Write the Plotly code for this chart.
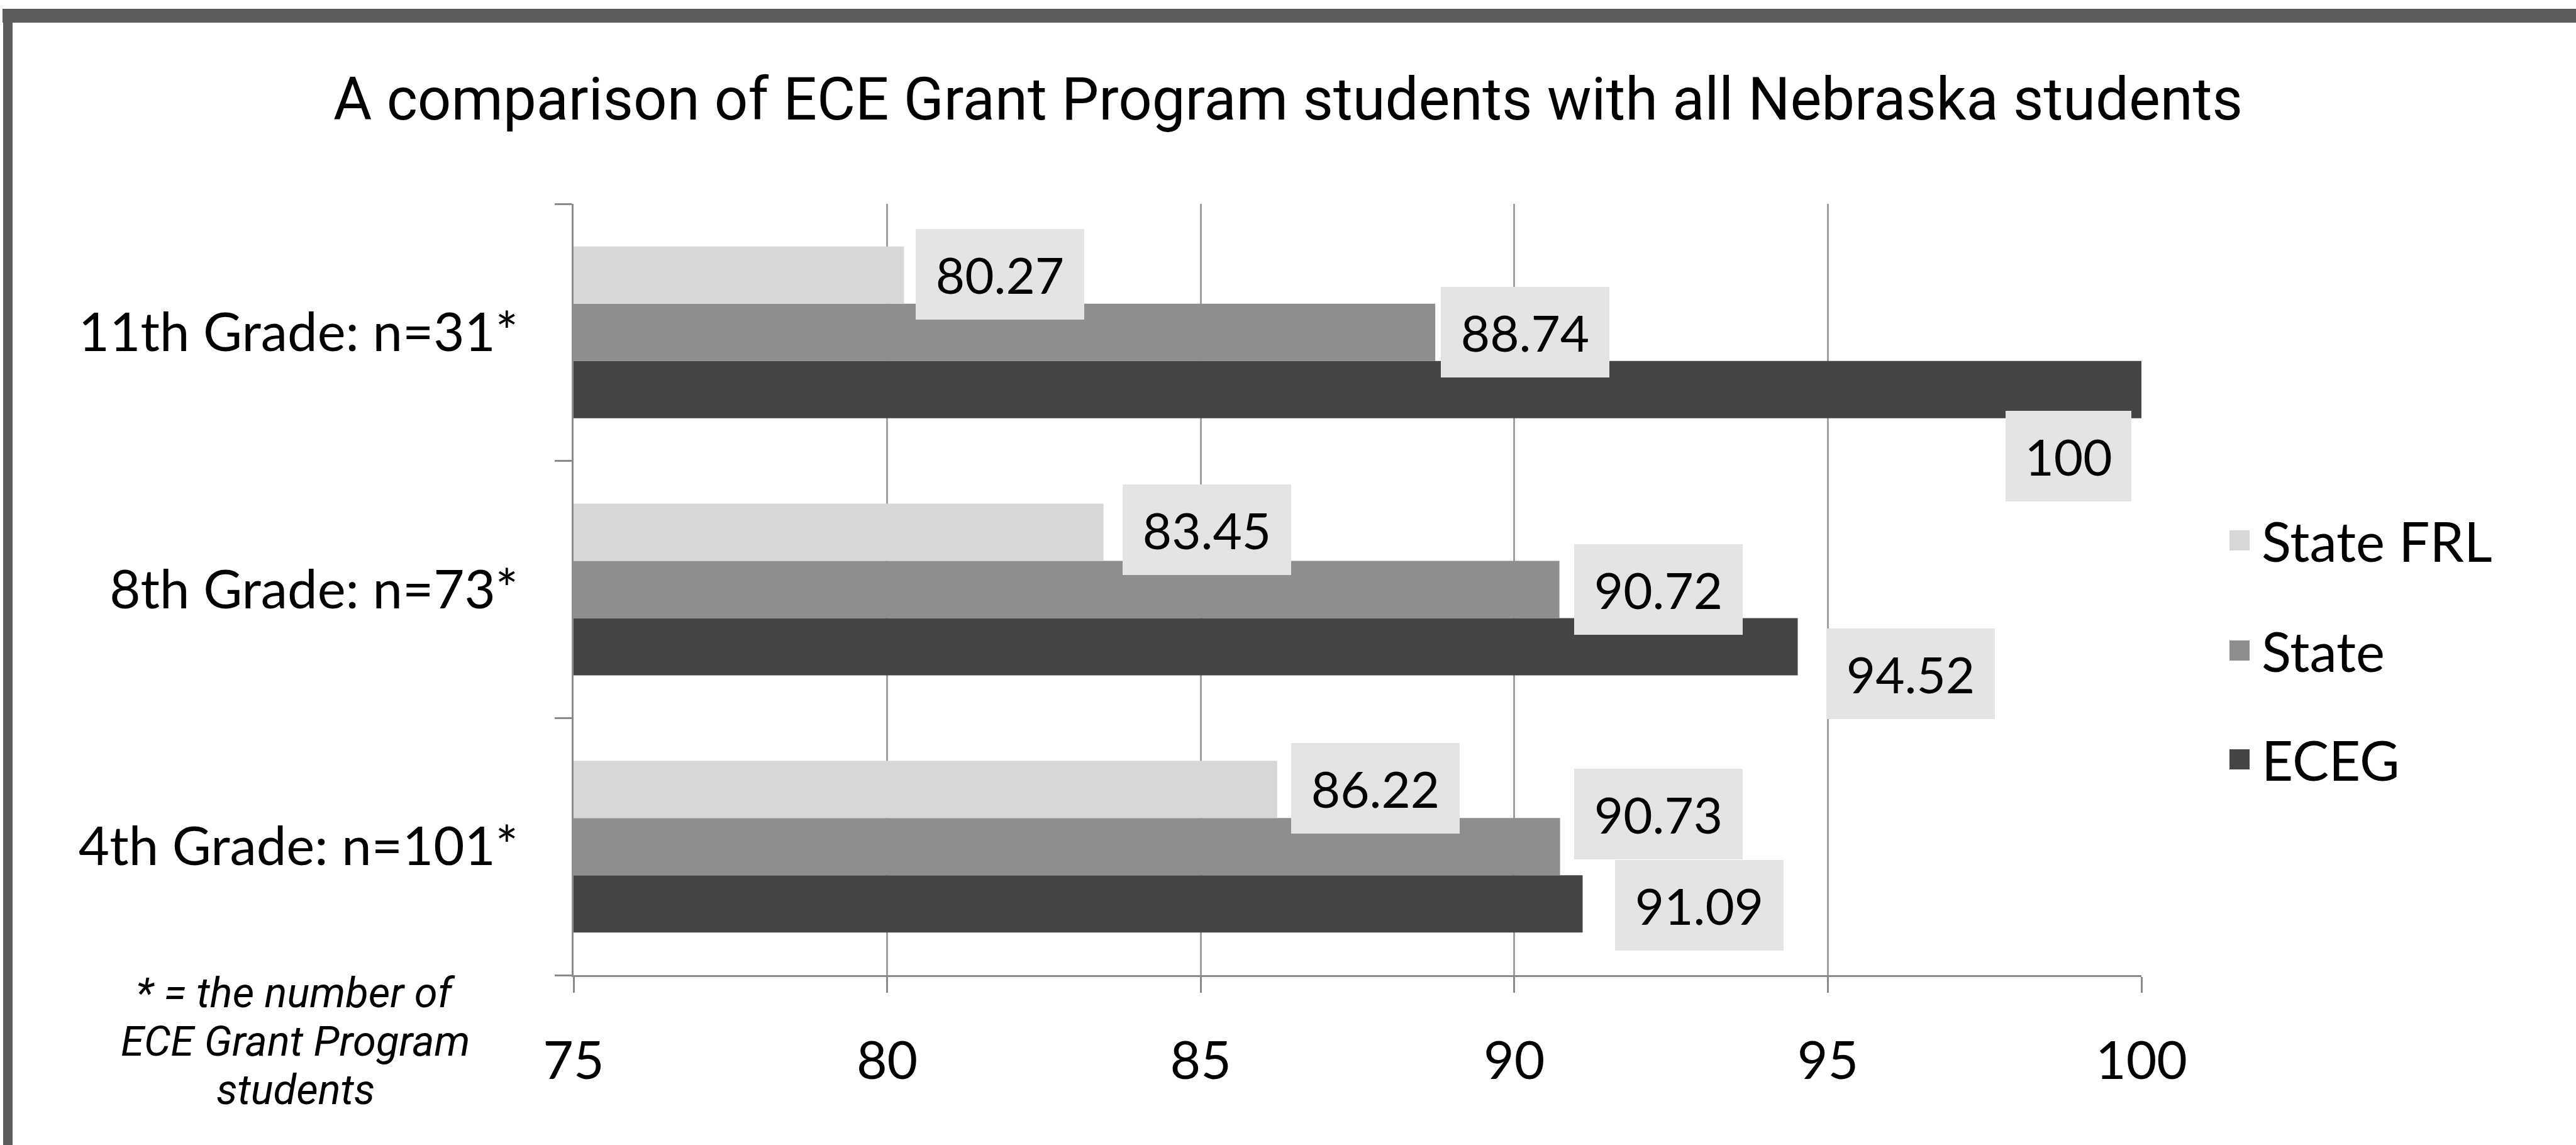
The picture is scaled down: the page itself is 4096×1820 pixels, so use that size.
import plotly.graph_objects as go

# ---------------- data ----------------
categories = ["4th Grade: n=101*", "8th Grade: n=73*", "11th Grade: n=31*"]
series_names = ["ECEG", "State", "State FRL"]
eceg = [91.09, 94.52, 100]
state = [90.73, 90.72, 88.74]
state_frl = [86.22, 83.45, 80.27]
x_ticks = [75, 80, 85, 90, 95, 100]
title_text = "A comparison of ECE Grant Program students with all Nebraska students"
footnote_lines = ["* = the number of", "ECE Grant Program", "students"]

# ---------------- style ----------------
W, H = 4096, 1820
L, R, T, B = 912, 691, 324, 270
PW, PH = W - L - R, H - T - B

colors = {"ECEG": "#454545", "State": "#8e8e8e", "State FRL": "#d7d7d7"}
axis_col = "#8a8a8a"
grid_col = "#a0a0a0"
label_bg = "#e4e4e4"
border_col = "#5c5c5c"
calibri_like = "Lato"
title_font = "Roboto"

# label placement (xanchor, xshift px, yshift px), per series per category
label_style = {
    "State FRL": [("left", 22, 93), ("left", 30, 95), ("left", 18, 92)],
    "State": [("left", 22, 52), ("left", 23, 0), ("left", 9, 0)],
    "ECEG": [("left", 52, -93), ("left", 45, -134), ("right", -16, -197)],
}


def px_x(px):
    return (px - L) / PW


def px_y(py):
    return (H - B - py) / PH


series_values = {"ECEG": eceg, "State": state, "State FRL": state_frl}

fig = go.Figure()
for name in series_names:
    fig.add_trace(go.Bar(
        y=categories, x=series_values[name], name=name, orientation="h",
        marker=dict(color=colors[name], line=dict(width=0)),
        showlegend=False, hoverinfo="x+name",
    ))

annotations = []
for name in ["State FRL", "State", "ECEG"]:
    for i, cat in enumerate(categories):
        v = series_values[name][i]
        xa, xs, ys = label_style[name][i]
        txt = f"{v:g}"
        annotations.append(dict(
            x=v, y=cat, xref="x", yref="y", text=txt, showarrow=False,
            xanchor=xa, yanchor="middle", xshift=xs, yshift=ys,
            font=dict(family=calibri_like, size=80, color="black"),
            bgcolor=label_bg, borderpad=0, borderwidth=0,
            width=268 if len(txt) >= 5 else 200, height=144, align="center",
        ))

# footnote (three lines)
for line, yc in zip(footnote_lines, [1578, 1655, 1732]):
    annotations.append(dict(
        x=px_x(470), y=px_y(yc), xref="paper", yref="paper",
        text=f"<i>{line}</i>", showarrow=False, xanchor="center", yanchor="middle",
        font=dict(family=title_font, size=67, color="black"),
    ))

# manual legend
shapes = []
for name, yc in zip(["State FRL", "State", "ECEG"], [859, 1034, 1207]):
    shapes.append(dict(
        type="rect", xref="paper", yref="paper",
        x0=px_x(3545), x1=px_x(3577), y0=px_y(yc + 16), y1=px_y(yc - 16),
        fillcolor=colors[name], line=dict(width=0),
    ))
    annotations.append(dict(
        x=px_x(3594), y=px_y(yc), xref="paper", yref="paper", text=name,
        showarrow=False, xanchor="left", yanchor="middle",
        font=dict(family=calibri_like, size=87, color="black"),
    ))

# outer frame (top and left bands)
shapes.append(dict(type="rect", xref="paper", yref="paper",
                   x0=px_x(4), x1=px_x(W + 10), y0=px_y(36), y1=px_y(14),
                   fillcolor=border_col, line=dict(width=0), layer="below"))
shapes.append(dict(type="rect", xref="paper", yref="paper",
                   x0=px_x(5), x1=px_x(20), y0=px_y(H + 10), y1=px_y(14),
                   fillcolor=border_col, line=dict(width=0), layer="below"))

fig.update_layout(
    template="none",
    width=W, height=H, autosize=False,
    margin=dict(l=L, r=R, t=T, b=B, pad=0),
    paper_bgcolor="white", plot_bgcolor="white",
    barmode="group", bargap=0.332, bargroupgap=0,
    showlegend=False,
    title=dict(text=title_text, x=0.5, xanchor="center", y=1 - 157 / H, yanchor="middle",
               font=dict(family=title_font, size=94, color="black")),
    annotations=annotations, shapes=shapes,
    xaxis=dict(range=[75, 100], tickvals=x_ticks, ticktext=[str(t) for t in x_ticks],
               showgrid=True, gridcolor=grid_col, gridwidth=3,
               showline=True, linecolor=axis_col, linewidth=3,
               ticks="outside", ticklen=25, tickwidth=3, tickcolor=axis_col,
               tickfont=dict(family=calibri_like, size=84, color="black"),
               ticklabelstandoff=36, zeroline=False, automargin=False, fixedrange=True),
    yaxis=dict(type="category", categoryorder="array", categoryarray=categories,
               showgrid=False, showline=True, linecolor=axis_col, linewidth=3,
               ticks="outside", ticklen=27, tickwidth=3, tickcolor=axis_col,
               tickson="boundaries",
               tickfont=dict(family=calibri_like, size=85, color="black"),
               ticklabelstandoff=68, zeroline=False, automargin=False, fixedrange=True),
)

fig.write_html("out.html")
